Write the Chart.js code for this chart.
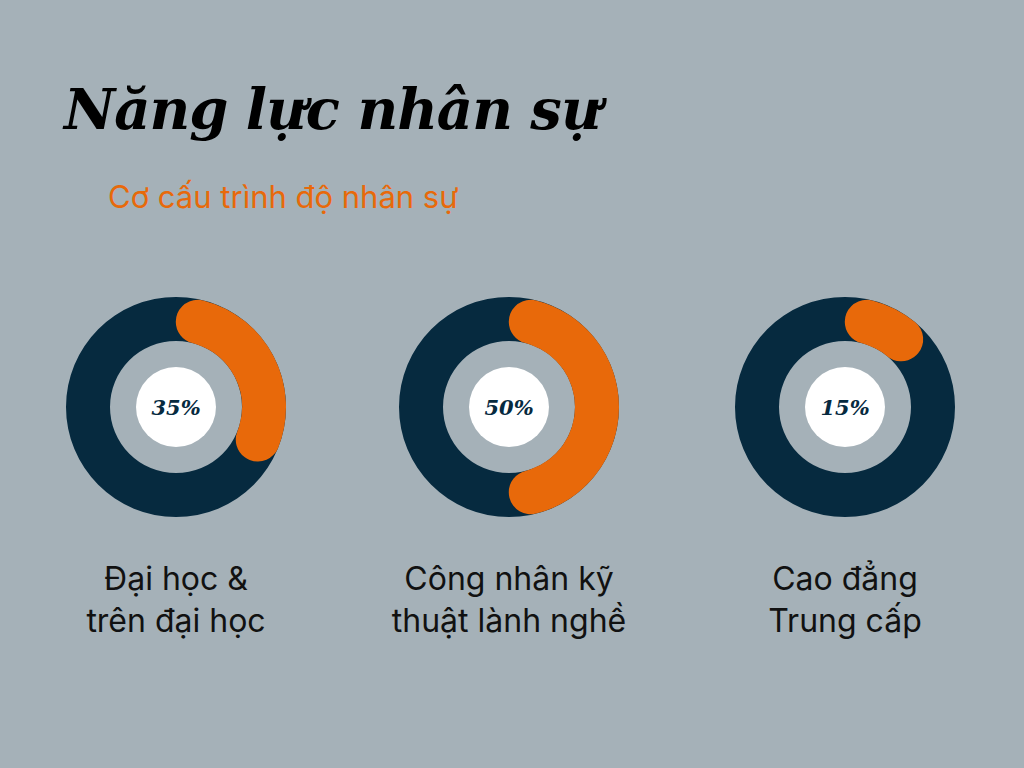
<!DOCTYPE html>
<html><head><meta charset="utf-8">
<script src="https://cdn.jsdelivr.net/npm/chart.js@4/dist/chart.umd.min.js"></script>
<style>
body{margin:0;width:1024px;height:768px;background:#a5b1b8;position:relative;overflow:hidden;font-family:Inter,"Noto Sans",sans-serif}
#title{position:absolute;left:64px;top:76px;font-family:"DejaVu Serif",serif;font-style:italic;font-weight:bold;font-size:56px;color:#000;letter-spacing:-1px}
#sub{position:absolute;left:108px;top:178px;font-size:31px;color:#e8690a}
.wrap{position:absolute;width:240px;height:240px}
.wrap canvas{position:absolute;left:0;top:0}
.c{position:absolute;left:80px;top:80px;width:80px;height:80px;border-radius:50%;background:#fff;display:flex;align-items:center;justify-content:center;font-family:"DejaVu Serif",serif;font-style:italic;font-weight:bold;font-size:21px;color:#062a3f}
.lab{position:absolute;width:320px;text-align:center;font-size:32px;line-height:42px;color:#111}
</style></head><body>
<div id="title">Năng lực nhân sự</div>
<div id="sub">Cơ cấu trình độ nhân sự</div>
<script>
const categories=["Đại học &\ntrên đại học","Công nhân kỹ\nthuật lành nghề","Cao đẳng\nTrung cấp"];
const values=[35,50,15];
const centersX=[176,509,845];
const cy=407;
values.forEach((v,i)=>{
  const w=document.createElement('div');w.className='wrap';
  w.style.left=(centersX[i]-120)+'px';w.style.top=(cy-120)+'px';
  const c1=document.createElement('canvas'),c2=document.createElement('canvas');
  [c1,c2].forEach(c=>{c.width=240;c.height=240;c.style.width='240px';c.style.height='240px';w.appendChild(c);});
  const ctr=document.createElement('div');ctr.className='c';ctr.textContent=v+'%';w.appendChild(ctr);
  document.body.appendChild(w);
  const base={responsive:false,animation:false,cutout:'60%',radius:110,plugins:{legend:{display:false},tooltip:{enabled:false}},events:[]};
  new Chart(c1,{type:'doughnut',data:{datasets:[{data:[100],backgroundColor:['#062a3f'],borderWidth:0}]},options:base});
  new Chart(c2,{type:'doughnut',data:{datasets:[{data:[v,100-v],backgroundColor:['#e8690a','rgba(0,0,0,0)'],borderWidth:0,borderRadius:[30,0]}]},options:base});
  const l=document.createElement('div');l.className='lab';
  l.style.left=(centersX[i]-160)+'px';l.style.top='558px';
  l.innerHTML=categories[i].replace('\n','<br>');document.body.appendChild(l);
});
</script>
</body></html>
